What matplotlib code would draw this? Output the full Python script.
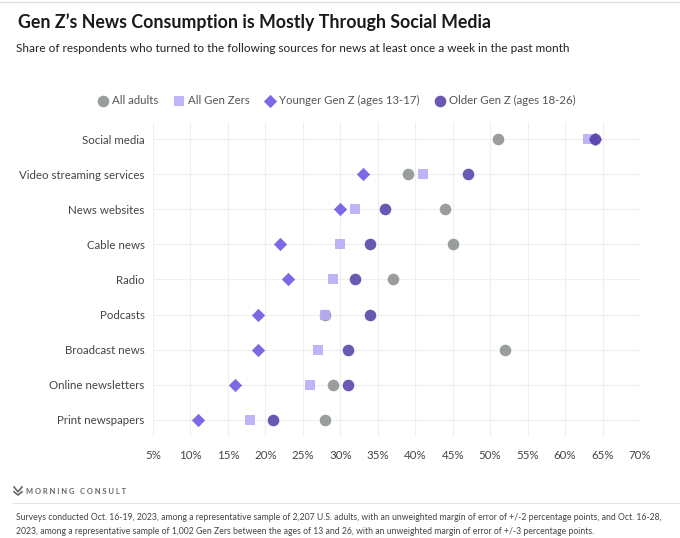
import matplotlib.pyplot as plt
from matplotlib.lines import Line2D

plt.rcParams['font.family'] = ['Lato', 'DejaVu Sans']

sources = ['Social media', 'Video streaming services', 'News websites', 'Cable news',
           'Radio', 'Podcasts', 'Broadcast news', 'Online newsletters', 'Print newspapers']
all_adults = [51, 39, 44, 45, 37, 28, 52, 29, 28]
all_gen_z = [63, 41, 32, 30, 29, 28, 27, 26, 18]
younger_gen_z = [64, 33, 30, 22, 23, 19, 19, 16, 11]
older_gen_z = [64, 47, 36, 34, 32, 34, 31, 31, 21]
x_ticks = [5, 10, 15, 20, 25, 30, 35, 40, 45, 50, 55, 60, 65, 70]

series = [
    ('All adults', all_adults, 'o', '#8e9390', 70),
    ('All Gen Zers', all_gen_z, 's', '#b7acf8', 62),
    ('Younger Gen Z (ages 13-17)', younger_gen_z, 'D', '#7158e2', 46),
    ('Older Gen Z (ages 18-26)', older_gen_z, 'o', '#5a46ab', 70),
]

W, H = 680, 538
fig = plt.figure(figsize=(6.8, 5.38), dpi=100)
ax = fig.add_axes([153 / W, 1 - 437.4 / H, (640 - 153) / W, (437.4 - 121.5) / H])

ypos = list(range(len(sources)))
for label, vals, marker, color, size in series:
    ax.scatter(vals, ypos, marker=marker, s=size, color=color, alpha=0.9,
               linewidths=0, label=label, zorder=3)

ax.set_xlim(5, 70)
ax.set_ylim(len(sources) - 0.5, -0.5)
ax.set_xticks(x_ticks)
ax.set_xticklabels([f'{t}%' for t in x_ticks])
ax.set_yticks(ypos)
ax.set_yticklabels(sources)
ax.tick_params(length=0, labelsize=8.3, labelcolor='#444444')
ax.tick_params(axis='x', pad=9)
ax.tick_params(axis='y', pad=6)
ax.grid(True, color='#efefef', linewidth=0.8, zorder=0)
for s in ax.spines.values():
    s.set_visible(False)

leg = fig.legend(loc='center', bbox_to_anchor=(0.495, 1 - 100 / H), ncol=4, frameon=False,
                 fontsize=8.2, handletextpad=0.3, columnspacing=1.3, handlelength=1.0)
for t in leg.get_texts():
    t.set_color('#555555')

fig.text(18 / W, 1 - 22 / H, 'Gen Z\u2019s News Consumption is Mostly Through Social Media',
         fontsize=12.8, fontweight='bold', color='#1a1a1a', va='center')
fig.text(16 / W, 1 - 48 / H,
         'Share of respondents who turned to the following sources for news at least once a week in the past month',
         fontsize=8.5, color='#222222', va='center')

# top and bottom rules
fig.add_artist(Line2D([0, 1], [1 - 2 / H, 1 - 2 / H], color='#dddddd', linewidth=1))
fig.add_artist(Line2D([13 / W, 1], [1 - 503 / H, 1 - 503 / H], color='#e3e3e3', linewidth=0.8))

# logo mark
lx, ly = 18 / W, 1 - 491 / H
dx, dy = 4 / W, 4 / H
fig.add_artist(Line2D([lx - dx, lx, lx + dx], [ly + dy, ly - dy * 0.2, ly + dy], color='#666666', linewidth=1.2))
fig.add_artist(Line2D([lx - dx, lx, lx + dx], [ly - dy * 0.2, ly - dy, ly - dy * 0.2], color='#666666', linewidth=1.2))
fig.text(26 / W, ly, 'M O R N I N G   C O N S U L T', fontsize=5.4, fontweight='bold', color='#666666',
         va='center')

fig.text(16 / W, 1 - 518 / H,
         'Surveys conducted Oct. 16-19, 2023, among a representative sample of 2,207 U.S. adults, with an unweighted margin '
         'of error of +/-2 percentage points, and Oct. 16-28,',
         fontsize=6.25, color='#444444', va='center')
fig.text(16 / W, 1 - 532 / H,
         '2023, among a representative sample of 1,002 Gen Zers between the ages of 13 and 26, with an unweighted margin '
         'of error of +/-3 percentage points.',
         fontsize=6.25, color='#444444', va='center')

fig.savefig('out.png', dpi=100)
